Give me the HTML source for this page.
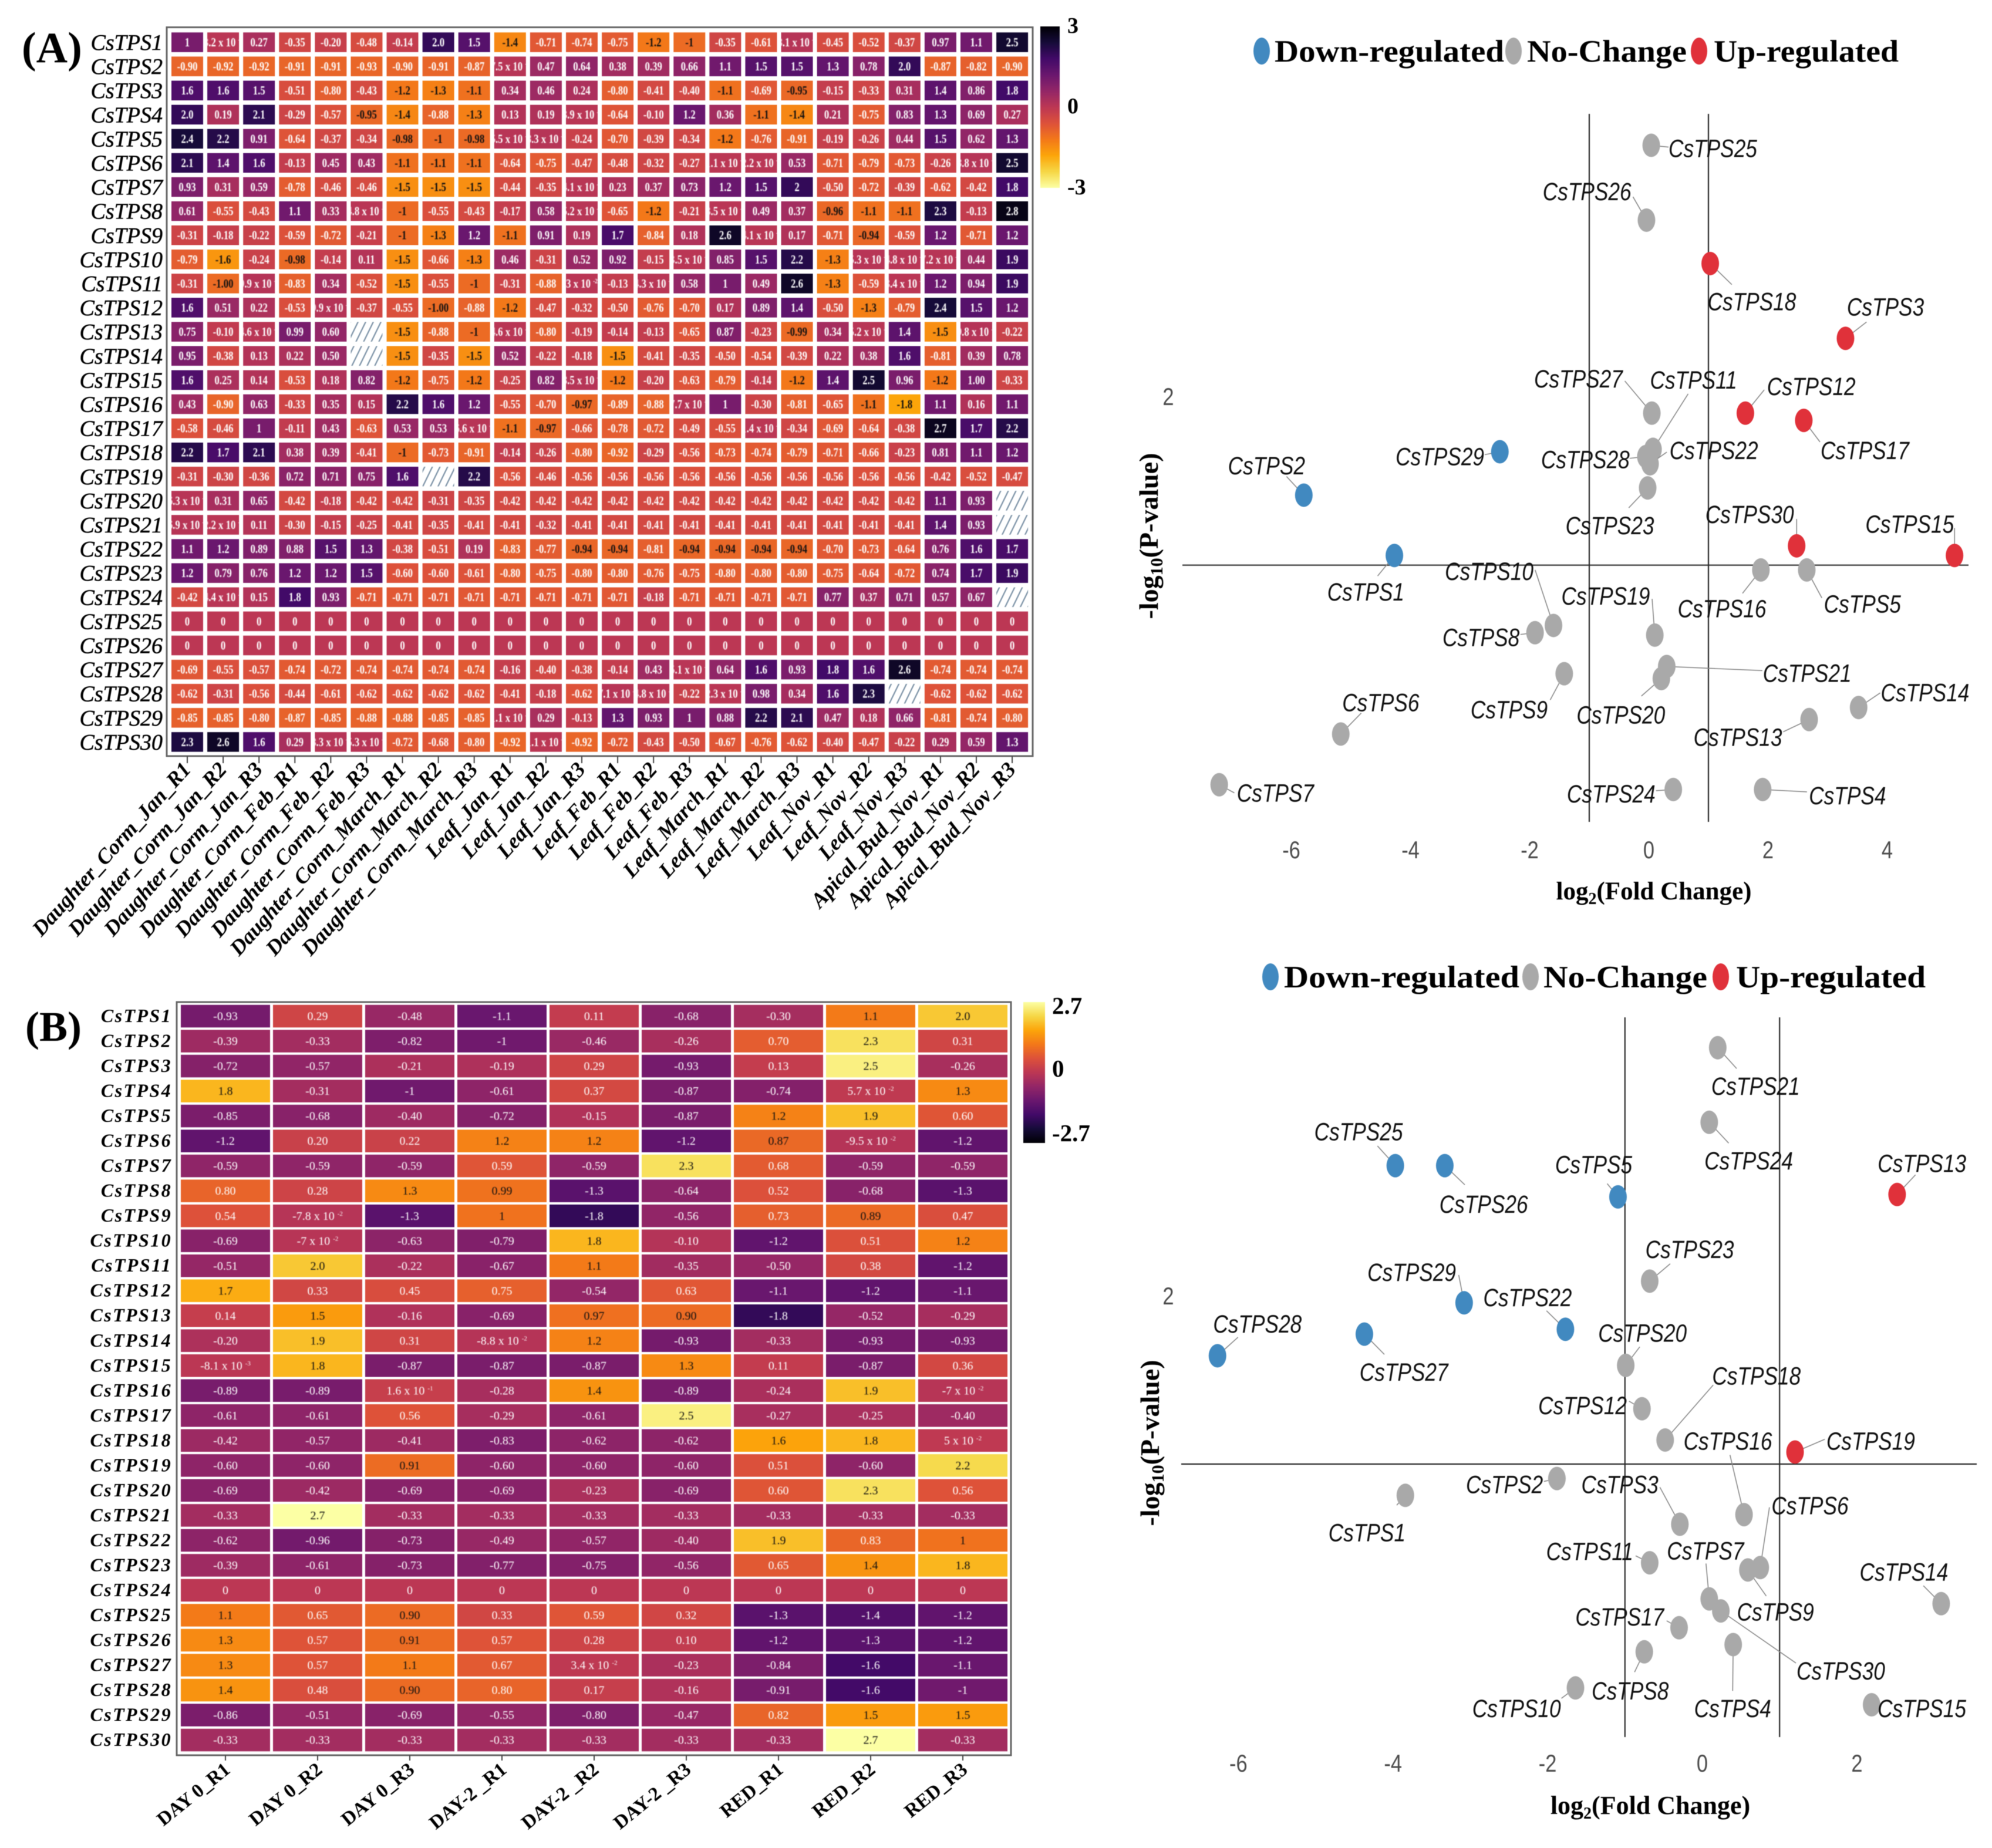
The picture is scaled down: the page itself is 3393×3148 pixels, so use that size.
<!DOCTYPE html>
<html lang="en">
<head>
<meta charset="utf-8">
<title>CsTPS expression heatmaps and volcano plots</title>
<style>
html,body{margin:0;padding:0;background:#fff;}
svg{display:block;filter:blur(0.6px);}
.serif{font-family:"Liberation Serif",serif;}
.sans{font-family:"Liberation Sans",sans-serif;}
</style>
</head>
<body>
<svg id="figure" xmlns="http://www.w3.org/2000/svg" width="3393" height="3148" viewBox="0 0 3393 3148">
  <defs>
    <pattern id="hatch" patternUnits="userSpaceOnUse" width="13" height="13" patternTransform="skewX(-26)">
      <rect x="5" y="0" width="2.6" height="13" fill="#8398ab"></rect>
    </pattern>
    <linearGradient id="barA" x1="0" y1="0" x2="0" y2="1"></linearGradient>
    <linearGradient id="barB" x1="0" y1="0" x2="0" y2="1"></linearGradient>
  </defs>
  <rect x="0" y="0" width="3393" height="3148" fill="#fff"></rect>

  <text class="serif" x="37" y="106" font-size="74" font-weight="700">(A)</text>
  <text class="serif" x="43" y="1773" font-size="72" font-weight="700">(B)</text>

  <g id="heatA"></g>
  <g id="heatB"></g>

  <g>
    <rect x="1772" y="45" width="33" height="275" fill="url(#barA)"></rect>
    <text class="serif" x="1818" y="56" font-size="38" font-weight="700">3</text>
    <text class="serif" x="1818" y="193" font-size="38" font-weight="700">0</text>
    <text class="serif" x="1818" y="331" font-size="38" font-weight="700">-3</text>
  </g>
  <g>
    <rect x="1743" y="1707" width="37" height="240" fill="url(#barB)"></rect>
    <text class="serif" x="1792" y="1727" font-size="41" font-weight="700">2.7</text>
    <text class="serif" x="1792" y="1834" font-size="41" font-weight="700">0</text>
    <text class="serif" x="1792" y="1944" font-size="41" font-weight="700">-2.7</text>
  </g>

  <g id="volcA">
    <g>
      <ellipse cx="2149" cy="87" rx="14" ry="23" fill="#4189c0"></ellipse>
      <text class="serif" x="2171" y="105" font-size="53" font-weight="700" textLength="391" lengthAdjust="spacingAndGlyphs">Down-regulated</text>
      <ellipse cx="2578" cy="87" rx="14" ry="23" fill="#a9a9a9"></ellipse>
      <text class="serif" x="2601" y="105" font-size="53" font-weight="700" textLength="272" lengthAdjust="spacingAndGlyphs">No-Change</text>
      <ellipse cx="2894" cy="87" rx="14" ry="23" fill="#e0313a"></ellipse>
      <text class="serif" x="2919" y="105" font-size="53" font-weight="700" textLength="315" lengthAdjust="spacingAndGlyphs">Up-regulated</text>
    </g>
    <text class="serif" x="2817" y="1532" font-size="43" font-weight="700" text-anchor="middle">log<tspan font-size="28" dy="8">2</tspan><tspan dy="-8">(Fold Change)</tspan></text>
    <text class="serif" transform="translate(1972,913) rotate(-90)" font-size="46" font-weight="700" text-anchor="middle">-log<tspan font-size="30" dy="8">10</tspan><tspan dy="-8">(P-value)</tspan></text>
  </g>

  <g id="volcB">
    <g>
      <ellipse cx="2164" cy="1664" rx="14" ry="23" fill="#4189c0"></ellipse>
      <text class="serif" x="2187" y="1682" font-size="53" font-weight="700" textLength="401" lengthAdjust="spacingAndGlyphs">Down-regulated</text>
      <ellipse cx="2607" cy="1664" rx="14" ry="23" fill="#a9a9a9"></ellipse>
      <text class="serif" x="2629" y="1682" font-size="53" font-weight="700" textLength="279" lengthAdjust="spacingAndGlyphs">No-Change</text>
      <ellipse cx="2931" cy="1664" rx="14" ry="23" fill="#e0313a"></ellipse>
      <text class="serif" x="2957" y="1682" font-size="53" font-weight="700" textLength="323" lengthAdjust="spacingAndGlyphs">Up-regulated</text>
    </g>
    <text class="serif" x="2811" y="3090" font-size="44" font-weight="700" text-anchor="middle">log<tspan font-size="28" dy="8">2</tspan><tspan dy="-8">(Fold Change)</tspan></text>
    <text class="serif" transform="translate(1974,2458) rotate(-90)" font-size="46" font-weight="700" text-anchor="middle">-log<tspan font-size="30" dy="8">10</tspan><tspan dy="-8">(P-value)</tspan></text>
  </g>
</svg>

<script>
const genes = ["CsTPS1","CsTPS2","CsTPS3","CsTPS4","CsTPS5","CsTPS6","CsTPS7","CsTPS8","CsTPS9","CsTPS10","CsTPS11","CsTPS12","CsTPS13","CsTPS14","CsTPS15","CsTPS16","CsTPS17","CsTPS18","CsTPS19","CsTPS20","CsTPS21","CsTPS22","CsTPS23","CsTPS24","CsTPS25","CsTPS26","CsTPS27","CsTPS28","CsTPS29","CsTPS30"];

const samplesA = ["Daughter_Corm_Jan_R1","Daughter_Corm_Jan_R2","Daughter_Corm_Jan_R3","Daughter_Corm_Feb_R1","Daughter_Corm_Feb_R2","Daughter_Corm_Feb_R3","Daughter_Corm_March_R1","Daughter_Corm_March_R2","Daughter_Corm_March_R3","Leaf_Jan_R1","Leaf_Jan_R2","Leaf_Jan_R3","Leaf_Feb_R1","Leaf_Feb_R2","Leaf_Feb_R3","Leaf_March_R1","Leaf_March_R2","Leaf_March_R3","Leaf_Nov_R1","Leaf_Nov_R2","Leaf_Nov_R3","Apical_Bud_Nov_R1","Apical_Bud_Nov_R2","Apical_Bud_Nov_R3"];

const samplesB = ["DAY 0_R1","DAY 0_R2","DAY 0_R3","DAY-2 _R1","DAY-2 _R2","DAY-2 _R3","RED_R1","RED_R2","RED_R3"];

/* Printed cell values; "NA" = hatched missing cell; "a x 10" has an implied 10^-2 exponent */
const valuesA = [
["1","3.2 x 10","0.27","-0.35","-0.20","-0.48","-0.14","2.0","1.5","-1.4","-0.71","-0.74","-0.75","-1.2","-1","-0.35","-0.61","8.1 x 10","-0.45","-0.52","-0.37","0.97","1.1","2.5"],
["-0.90","-0.92","-0.92","-0.91","-0.91","-0.93","-0.90","-0.91","-0.87","7.5 x 10","0.47","0.64","0.38","0.39","0.66","1.1","1.5","1.5","1.3","0.78","2.0","-0.87","-0.82","-0.90"],
["1.6","1.6","1.5","-0.51","-0.80","-0.43","-1.2","-1.3","-1.1","0.34","0.46","0.24","-0.80","-0.41","-0.40","-1.1","-0.69","-0.95","-0.15","-0.33","0.31","1.4","0.86","1.8"],
["2.0","0.19","2.1","-0.29","-0.57","-0.95","-1.4","-0.88","-1.3","0.13","0.19","3.9 x 10","-0.64","-0.10","1.2","0.36","-1.1","-1.4","0.21","-0.75","0.83","1.3","0.69","0.27"],
["2.4","2.2","0.91","-0.64","-0.37","-0.34","-0.98","-1","-0.98","5.5 x 10","8.3 x 10","-0.24","-0.70","-0.39","-0.34","-1.2","-0.76","-0.91","-0.19","-0.26","0.44","1.5","0.62","1.3"],
["2.1","1.4","1.6","-0.13","0.45","0.43","-1.1","-1.1","-1.1","-0.64","-0.75","-0.47","-0.48","-0.32","-0.27","1.1 x 10","2.2 x 10","0.53","-0.71","-0.79","-0.73","-0.26","8.8 x 10","2.5"],
["0.93","0.31","0.59","-0.78","-0.46","-0.46","-1.5","-1.5","-1.5","-0.44","-0.35","4.1 x 10","0.23","0.37","0.73","1.2","1.5","2","-0.50","-0.72","-0.39","-0.62","-0.42","1.8"],
["0.61","-0.55","-0.43","1.1","0.33","4.8 x 10","-1","-0.55","-0.43","-0.17","0.58","5.2 x 10","-0.65","-1.2","-0.21","3.5 x 10","0.49","0.37","-0.96","-1.1","-1.1","2.3","-0.13","2.8"],
["-0.31","-0.18","-0.22","-0.59","-0.72","-0.21","-1","-1.3","1.2","-1.1","0.91","0.19","1.7","-0.84","0.18","2.6","4.1 x 10","0.17","-0.71","-0.94","-0.59","1.2","-0.71","1.2"],
["-0.79","-1.6","-0.24","-0.98","-0.14","0.11","-1.5","-0.66","-1.3","0.46","-0.31","0.52","0.92","-0.15","3.5 x 10","0.85","1.5","2.2","-1.3","5.3 x 10","4.8 x 10","7.2 x 10","0.44","1.9"],
["-0.31","-1.00","9.9 x 10","-0.83","0.34","-0.52","-1.5","-0.55","-1","-0.31","-0.88","3 x 10","-0.13","4.3 x 10","0.58","1","0.49","2.6","-1.3","-0.59","3.4 x 10","1.2","0.94","1.9"],
["1.6","0.51","0.22","-0.53","9.9 x 10","-0.37","-0.55","-1.00","-0.88","-1.2","-0.47","-0.32","-0.50","-0.76","-0.70","0.17","0.89","1.4","-0.50","-1.3","-0.79","2.4","1.5","1.2"],
["0.75","-0.10","4.6 x 10","0.99","0.60","NA","-1.5","-0.88","-1","4.6 x 10","-0.80","-0.19","-0.14","-0.13","-0.65","0.87","-0.23","-0.99","0.34","5.2 x 10","1.4","-1.5","9.8 x 10","-0.22"],
["0.95","-0.38","0.13","0.22","0.50","NA","-1.5","-0.35","-1.5","0.52","-0.22","-0.18","-1.5","-0.41","-0.35","-0.50","-0.54","-0.39","0.22","0.38","1.6","-0.81","0.39","0.78"],
["1.6","0.25","0.14","-0.53","0.18","0.82","-1.2","-0.75","-1.2","-0.25","0.82","8.5 x 10","-1.2","-0.20","-0.63","-0.79","-0.14","-1.2","1.4","2.5","0.96","-1.2","1.00","-0.33"],
["0.43","-0.90","0.63","-0.33","0.35","0.15","2.2","1.6","1.2","-0.55","-0.70","-0.97","-0.89","-0.88","7.7 x 10","1","-0.30","-0.81","-0.65","-1.1","-1.8","1.1","0.16","1.1"],
["-0.58","-0.46","1","-0.11","0.43","-0.63","0.53","0.53","6.6 x 10","-1.1","-0.97","-0.66","-0.78","-0.72","-0.49","-0.55","1.4 x 10","-0.34","-0.69","-0.64","-0.38","2.7","1.7","2.2"],
["2.2","1.7","2.1","0.38","0.39","-0.41","-1","-0.73","-0.91","-0.14","-0.26","-0.80","-0.92","-0.29","-0.56","-0.73","-0.74","-0.79","-0.71","-0.66","-0.23","0.81","1.1","1.2"],
["-0.31","-0.30","-0.36","0.72","0.71","0.75","1.6","NA","2.2","-0.56","-0.46","-0.56","-0.56","-0.56","-0.56","-0.56","-0.56","-0.56","-0.56","-0.56","-0.56","-0.42","-0.52","-0.47"],
["6.3 x 10","0.31","0.65","-0.42","-0.18","-0.42","-0.42","-0.31","-0.35","-0.42","-0.42","-0.42","-0.42","-0.42","-0.42","-0.42","-0.42","-0.42","-0.42","-0.42","-0.42","1.1","0.93","NA"],
["6.9 x 10","2.2 x 10","0.11","-0.30","-0.15","-0.25","-0.41","-0.35","-0.41","-0.41","-0.32","-0.41","-0.41","-0.41","-0.41","-0.41","-0.41","-0.41","-0.41","-0.41","-0.41","1.4","0.93","NA"],
["1.1","1.2","0.89","0.88","1.5","1.3","-0.38","-0.51","0.19","-0.83","-0.77","-0.94","-0.94","-0.81","-0.94","-0.94","-0.94","-0.94","-0.70","-0.73","-0.64","0.76","1.6","1.7"],
["1.2","0.79","0.76","1.2","1.2","1.5","-0.60","-0.60","-0.61","-0.80","-0.75","-0.80","-0.80","-0.76","-0.75","-0.80","-0.80","-0.80","-0.75","-0.64","-0.72","0.74","1.7","1.9"],
["-0.42","4.4 x 10","0.15","1.8","0.93","-0.71","-0.71","-0.71","-0.71","-0.71","-0.71","-0.71","-0.71","-0.18","-0.71","-0.71","-0.71","-0.71","0.77","0.37","0.71","0.57","0.67","NA"],
["0","0","0","0","0","0","0","0","0","0","0","0","0","0","0","0","0","0","0","0","0","0","0","0"],
["0","0","0","0","0","0","0","0","0","0","0","0","0","0","0","0","0","0","0","0","0","0","0","0"],
["-0.69","-0.55","-0.57","-0.74","-0.72","-0.74","-0.74","-0.74","-0.74","-0.16","-0.40","-0.38","-0.14","0.43","5.1 x 10","0.64","1.6","0.93","1.8","1.6","2.6","-0.74","-0.74","-0.74"],
["-0.62","-0.31","-0.56","-0.44","-0.61","-0.62","-0.62","-0.62","-0.62","-0.41","-0.18","-0.62","7.1 x 10","4.8 x 10","-0.22","2.3 x 10","0.98","0.34","1.6","2.3","NA","-0.62","-0.62","-0.62"],
["-0.85","-0.85","-0.80","-0.87","-0.85","-0.88","-0.88","-0.85","-0.85","1.1 x 10","0.29","-0.13","1.3","0.93","1","0.88","2.2","2.1","0.47","0.18","0.66","-0.81","-0.74","-0.80"],
["2.3","2.6","1.6","0.29","8.3 x 10","5.3 x 10","-0.72","-0.68","-0.80","-0.92","1.1 x 10","-0.92","-0.72","-0.43","-0.50","-0.67","-0.76","-0.62","-0.40","-0.47","-0.22","0.29","0.59","1.3"]
];

const valuesB = [
["-0.93","0.29","-0.48","-1.1","0.11","-0.68","-0.30","1.1","2.0"],
["-0.39","-0.33","-0.82","-1","-0.46","-0.26","0.70","2.3","0.31"],
["-0.72","-0.57","-0.21","-0.19","0.29","-0.93","0.13","2.5","-0.26"],
["1.8","-0.31","-1","-0.61","0.37","-0.87","-0.74","5.7 x 10^-2","1.3"],
["-0.85","-0.68","-0.40","-0.72","-0.15","-0.87","1.2","1.9","0.60"],
["-1.2","0.20","0.22","1.2","1.2","-1.2","0.87","-9.5 x 10^-2","-1.2"],
["-0.59","-0.59","-0.59","0.59","-0.59","2.3","0.68","-0.59","-0.59"],
["0.80","0.28","1.3","0.99","-1.3","-0.64","0.52","-0.68","-1.3"],
["0.54","-7.8 x 10^-2","-1.3","1","-1.8","-0.56","0.73","0.89","0.47"],
["-0.69","-7 x 10^-2","-0.63","-0.79","1.8","-0.10","-1.2","0.51","1.2"],
["-0.51","2.0","-0.22","-0.67","1.1","-0.35","-0.50","0.38","-1.2"],
["1.7","0.33","0.45","0.75","-0.54","0.63","-1.1","-1.2","-1.1"],
["0.14","1.5","-0.16","-0.69","0.97","0.90","-1.8","-0.52","-0.29"],
["-0.20","1.9","0.31","-8.8 x 10^-2","1.2","-0.93","-0.33","-0.93","-0.93"],
["-8.1 x 10^-3","1.8","-0.87","-0.87","-0.87","1.3","0.11","-0.87","0.36"],
["-0.89","-0.89","1.6 x 10^-1","-0.28","1.4","-0.89","-0.24","1.9","-7 x 10^-2"],
["-0.61","-0.61","0.56","-0.29","-0.61","2.5","-0.27","-0.25","-0.40"],
["-0.42","-0.57","-0.41","-0.83","-0.62","-0.62","1.6","1.8","5 x 10^-2"],
["-0.60","-0.60","0.91","-0.60","-0.60","-0.60","0.51","-0.60","2.2"],
["-0.69","-0.42","-0.69","-0.69","-0.23","-0.69","0.60","2.3","0.56"],
["-0.33","2.7","-0.33","-0.33","-0.33","-0.33","-0.33","-0.33","-0.33"],
["-0.62","-0.96","-0.73","-0.49","-0.57","-0.40","1.9","0.83","1"],
["-0.39","-0.61","-0.73","-0.77","-0.75","-0.56","0.65","1.4","1.8"],
["0","0","0","0","0","0","0","0","0"],
["1.1","0.65","0.90","0.33","0.59","0.32","-1.3","-1.4","-1.2"],
["1.3","0.57","0.91","0.57","0.28","0.10","-1.2","-1.3","-1.2"],
["1.3","0.57","1.1","0.67","3.4 x 10^-2","-0.23","-0.84","-1.6","-1.1"],
["1.4","0.48","0.90","0.80","0.17","-0.16","-0.91","-1.6","-1"],
["-0.86","-0.51","-0.69","-0.55","-0.80","-0.47","0.82","1.5","1.5"],
["-0.33","-0.33","-0.33","-0.33","-0.33","-0.33","-0.33","2.7","-0.33"]
];

/* Volcano values, in gene order */
const foldA = [-4.27,-5.79,3.30,1.91,2.65,-5.17,-7.21,-1.91,-1.42,-1.60,0.07,1.62,2.69,3.52,5.13,1.88,2.60,1.03,0.10,0.21,0.30,0.02,-0.02,0.41,0.04,-0.04,0.05,-0.05,-2.50,2.48];
const pvalA = [1.34,1.59,2.24,0.37,1.28,0.60,0.39,1.02,0.85,1.05,1.78,1.93,0.66,0.71,1.34,1.28,1.90,2.55,1.01,0.83,0.88,1.72,1.62,0.37,3.04,2.73,1.93,1.75,1.77,1.38];
const foldB = [-3.84,-1.88,-0.29,0.40,-1.09,0.75,0.09,-0.75,0.59,-1.64,-0.68,-0.78,2.52,3.09,2.19,0.54,-0.30,-0.48,1.20,-0.99,0.20,-1.77,-0.68,0.09,-3.97,-3.33,-4.37,-6.27,-3.08,0.24];
const pvalB = [1.17,1.24,1.05,0.55,2.41,0.87,0.74,0.52,0.86,0.37,0.89,1.53,2.42,0.72,0.30,1.09,0.62,1.40,1.35,1.71,3.03,1.86,2.06,2.72,2.54,2.54,1.84,1.75,1.97,0.69];
const xTicksA = [-6,-4,-2,0,2,4];
const xTicksB = [-6,-4,-2,0,2];
const yTicks = [2];

/* Label placement relative to each point: label dx, dy, leader-end dx, dy */
const repelA = [[-53,62,-31,35],[-69,-51,-32,-32],[74,-54,39,-28],[157,10,82,4],[103,58,28,48],[74,-54,38,-36],[104,14,28,14],[-100,8,-27,3],[-102,61,-26,45],[-119,-93,-34,-95],[75,-119,65,-95],[122,-46,35,-40],[-132,30,-48,21],[123,-26,40,-25],[-83,-54,0,-47],[-72,66,-34,40],[113,51,30,37],[77,65,40,36],[-91,-67,-5,-62],[-75,62,-37,30],[260,11,177,7],[118,-23,31,-20],[-70,64,-35,34],[-115,7,-32,2],[114,5,32,3],[-110,-49,-25,-40],[-136,-59,-50,-55],[-112,5,-30,3],[-111,8,-28,5],[-87,-54,0,-46]];
const repelB = [[-71,64,-16,17],[-97,10,-24,5],[-111,-69,-37,-64],[-1,110,-1,80],[-45,-56,-20,-23],[92,-107,17,-104],[-7,-83,-6,-61],[-26,67,-18,35],[51,72,34,45],[-109,35,-26,18],[-111,-20,-26,-12],[-110,-6,-24,-13],[46,-54,34,-34],[-69,-55,-33,-31],[93,6,14,2],[-30,-127,-26,-103],[-110,-19,-23,-12],[169,-111,89,-95],[140,-19,55,-22],[31,-56,26,-32],[70,66,35,36],[-70,-55,-35,-32],[74,-55,38,-30],[73,66,36,36],[-68,-59,-33,-34],[72,66,37,33],[73,65,37,35],[74,-55,38,-32],[-97,-53,-10,-48],[222,103,139,90]];

const inferno = ["#000004","#160b39","#420a68","#6a176e","#932667","#bc3754","#dd513a","#f37819","#fca50a","#f6d746","#fcffa4"];

const NS = "http://www.w3.org/2000/svg";
function make(tag, parent, attrs, text) {
  const el = document.createElementNS(NS, tag);
  for (const k in attrs) el.setAttribute(k, attrs[k]);
  if (text !== undefined) el.textContent = text;
  parent.appendChild(el);
  return el;
}
function hexRgb(h) { return [1,3,5].map(i => parseInt(h.substr(i,2),16)); }
function colormap(t) {
  t = Math.max(0, Math.min(1, t));
  const p = t * (inferno.length - 1), i = Math.min(inferno.length - 2, Math.floor(p)), f = p - i;
  const a = hexRgb(inferno[i]), b = hexRgb(inferno[i+1]);
  return "rgb(" + a.map((c,k) => Math.round(c + (b[k]-c)*f)).join(",") + ")";
}
function parseCell(label) {
  if (label === "NA") return {value:null};
  const m = label.match(/^(-?[\d.]+) x 10(?:\^(-?\d+))?$/);
  if (m) {
    const exp = m[2] === undefined ? -2 : parseInt(m[2],10);
    return {value: parseFloat(m[1]) * Math.pow(10, exp), mantissa: m[1], exp: String(exp)};
  }
  return {value: parseFloat(label)};
}

/* colourbar gradients: A runs black (top) to yellow (bottom), B yellow (top) to black (bottom) */
const gradA = document.getElementById("barA");
const gradB = document.getElementById("barB");
const last = inferno.length - 1;
for (let i = 0; i <= last; i++) {
  make("stop", gradA, {offset: i/last, "stop-color": inferno[i]});
  make("stop", gradB, {offset: i/last, "stop-color": inferno[last - i]});
}

function drawHeatmap(cfg) {
  const root = cfg.root;
  const frame = make("rect", root, {x:cfg.box[0], y:cfg.box[1], width:cfg.box[2]-cfg.box[0], height:cfg.box[3]-cfg.box[1], fill:"#fff", stroke:"#666", "stroke-width":3});
  
  
  cfg.rows.forEach((gene, r) => {
    const rowLabel = make("text", root, {x:cfg.rowLabelX, y:cfg.y(r)+cfg.rowLabelDy, class:"serif", "font-size":cfg.rowFont, "font-style":"italic", "font-weight":cfg.rowWeight, "text-anchor":"end", "letter-spacing":cfg.rowSpacing, stroke:"#111", "stroke-width":cfg.rowStroke}, gene);
    
    
    cfg.values[r].forEach((label, c) => {
      const cell = parseCell(label);
      const x = cfg.x(c), y = cfg.y(r);
      const rect = make("rect", root, {x:x-cfg.cw/2, y:y-cfg.ch/2, width:cfg.cw, height:cfg.ch, fill: cell.value === null ? "url(#hatch)" : colormap(cfg.t(cell.value))});
      
      
      if (cell.value === null) return;
      const clip = make("svg", root, {x:x-cfg.cw/2, y:y-cfg.ch/2, width:cfg.cw, height:cfg.ch});
      
      
      const txt = make("text", clip, {
        transform:"translate(" + (cfg.cw/2) + "," + (cfg.ch/2 + cfg.font*0.33) + ") scale(" + cfg.textScale + ",1)",
        class:"serif", "font-size":cfg.font, "font-weight":cfg.fontWeight, "text-anchor":"middle",
        fill: cfg.dark(cell.value) ? "#111" : "#fff"
      }, cell.mantissa === undefined ? label : cell.mantissa + " x 10 ");
      
      
      if (cell.mantissa !== undefined) {
        const sup = make("tspan", txt, {dy:-cfg.font*0.35, "font-size":cfg.font*0.55}, cell.exp);
        
        
      }
    });
  });
  cfg.cols.forEach((name, c) => {
    const tick = make("line", root, {x1:cfg.x(c), x2:cfg.x(c), y1:cfg.box[3], y2:cfg.box[3]+cfg.tickLen, stroke:"#444", "stroke-width":2});
    
    
    const lab = make("text", root, {
      transform:"translate(" + (cfg.x(c)+cfg.colDx) + "," + cfg.colY + ") rotate(" + cfg.colAngle + ")",
      class:"serif", "font-size":cfg.colFont, "font-style":cfg.colStyle, "font-weight":700, "text-anchor":"end"
    }, name);
    
    
  });
}

drawHeatmap({
  root: document.getElementById("heatA"), prefix:"heatmap-a", rows:genes, cols:samplesA, values:valuesA,
  box:[284,46.5,1759,1288], x:c => 319 + 61.09*c, y:r => 72 + 41.1*r, cw:54, ch:33.5,
  t:v => (3 - v)/6, dark:v => v <= -0.94,
  font:21, fontWeight:700, textScale:0.8,
  rowLabelX:277, rowLabelDy:13, rowFont:38, rowWeight:400, rowStroke:0.6, rowSpacing:0,
  tickLen:12, colDx:8, colY:1312, colAngle:-48, colFont:36.5, colStyle:"italic"
});
drawHeatmap({
  root: document.getElementById("heatB"), prefix:"heatmap-b", rows:genes, cols:samplesB, values:valuesB,
  box:[301,1707,1722,2990], x:c => 384 + 157*c, y:r => 1731 + 42.52*r, cw:152, ch:38.5,
  t:v => (v + 2.7)/5.4, dark:v => v >= 0.87,
  font:20, fontWeight:400, textScale:1,
  rowLabelX:293, rowLabelDy:10, rowFont:32, rowWeight:700, rowStroke:0, rowSpacing:2.4,
  tickLen:9, colDx:10, colY:3018, colAngle:-39, colFont:33, colStyle:"normal"
});

function drawVolcano(cfg) {
  const root = cfg.root;
  const sx = v => cfg.x0 + cfg.ux*v;
  const sy = v => cfg.y2 + (2 - v)*cfg.uy;
  [-1,1].forEach(v => {
    const line = make("line", root, {x1:sx(v), x2:sx(v), y1:cfg.top, y2:cfg.bottom, stroke:"#2a2a2a", "stroke-width":2.2});
    
    
  });
  const hline = make("line", root, {x1:cfg.left, x2:cfg.right, y1:sy(1.3), y2:sy(1.3), stroke:"#2a2a2a", "stroke-width":2.2});
  
  
  cfg.xTicks.forEach(v => {
    const t = make("text", root, {transform:"translate(" + sx(v) + "," + cfg.xTickY + ") scale(.82,1)", class:"sans", "font-size":42, fill:"#4d4d4d", "text-anchor":"middle"}, String(v));
    
    
  });
  yTicks.forEach(v => {
    const t = make("text", root, {transform:"translate(1990," + (sy(v)+15) + ") scale(.82,1)", class:"sans", "font-size":42, fill:"#4d4d4d", "text-anchor":"middle"}, String(v));
    
    
  });
  genes.forEach((gene, i) => {
    const px = sx(cfg.fold[i]), py = sy(cfg.pval[i]);
    const o = cfg.repel[i];
    const lx = px + o[0]/1.0866, ly = py + o[1]/cfg.zy;
    const ex = px + o[2]/1.0866, ey = py + o[3]/cfg.zy;
    const leader = make("line", root, {x1:px, y1:py, x2:ex, y2:ey, stroke:"#8a8a8a", "stroke-width":1.6});
    
    
    const sig = cfg.pval[i] > 1.3 && Math.abs(cfg.fold[i]) > 1;
    const fill = !sig ? "#a9a9a9" : (cfg.fold[i] < 0 ? "#4189c0" : "#e0313a");
    const dot = make("ellipse", root, {cx:px, cy:py, rx:15, ry:20, fill:fill});
    
    
    const lab = make("text", root, {transform:"translate(" + lx + "," + (ly+15) + ") scale(.82,1)", class:"sans", "font-size":43, "font-style":"italic", fill:"#111", "text-anchor":"middle"}, gene);
    
    
  });
}

drawVolcano({
  root: document.getElementById("volcA"), prefix:"volcano-a", fold:foldA, pval:pvalA, repel:repelA, xTicks:xTicksA,
  x0:2808.5, ux:101.5, y2:675, uy:411, top:194, bottom:1400, left:2014, right:3353, xTickY:1462, zy:1.005
});
drawVolcano({
  root: document.getElementById("volcB"), prefix:"volcano-b", fold:foldB, pval:pvalB, repel:repelB, xTicks:xTicksB,
  x0:2899.5, ux:131.7, y2:2207, uy:410, top:1733, bottom:2959, left:2012, right:3367, xTickY:3018, zy:1.013
});
</script>
</body>
</html>
